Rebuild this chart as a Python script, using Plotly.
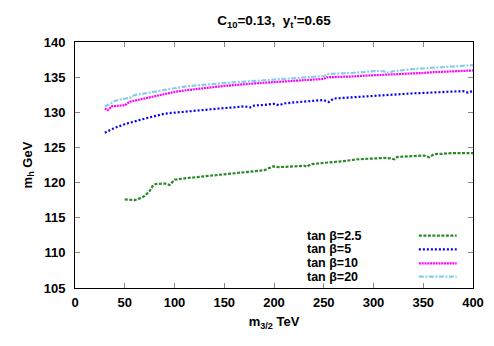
import plotly.graph_objects as go

# tan beta = 2.5
x_tb25 = [50, 55, 60, 65, 70, 75, 78, 81, 85, 91, 95, 98, 100, 110, 120, 130, 140, 150, 160,
          170, 180, 190, 199, 205, 220, 230, 233, 237, 250, 260, 270, 283, 290, 300, 310, 317,
          321, 324, 335, 344, 351, 356, 361, 370, 379, 390, 400]
y_tb25 = [117.6, 117.6, 117.5, 117.75, 118.1, 118.8, 119.5, 119.8, 119.85, 119.85, 119.65, 120.2,
          120.4, 120.6, 120.75, 120.85, 121.05, 121.2, 121.35, 121.45, 121.6, 121.75, 122.3, 122.2,
          122.3, 122.4, 122.25, 122.6, 122.8, 122.9, 123.05, 123.3, 123.35, 123.5, 123.5, 123.45,
          123.3, 123.65, 123.7, 123.8, 123.85, 123.6, 124.05, 124.1, 124.2, 124.2, 124.2]

# tan beta = 5
x_tb5 = [30, 35, 40, 50, 60, 70, 80, 90, 100, 110, 120, 130, 140, 150, 160, 170, 176, 180, 190,
         200, 205, 210, 220, 230, 240, 250, 255, 260, 270, 280, 290, 300, 310, 320, 330, 340, 350,
         360, 370, 380, 390, 395, 400]
y_tb5 = [127.1, 127.5, 127.8, 128.3, 128.75, 129.1, 129.45, 129.8, 129.95, 130.1, 130.25, 130.4,
         130.5, 130.6, 130.7, 130.85, 130.7, 130.95, 131.05, 131.2, 131.0, 131.25, 131.4, 131.5,
         131.65, 131.75, 131.45, 131.95, 132.05, 132.15, 132.25, 132.35, 132.45, 132.5, 132.6,
         132.7, 132.75, 132.85, 132.9, 132.95, 133.0, 132.8, 133.05]

# tan beta = 10
x_tb10 = [30, 33, 37, 45, 50, 55, 60, 70, 80, 90, 100, 110, 120, 130, 140, 150, 160, 170, 180,
          190, 200, 210, 220, 230, 240, 250, 253, 260, 270, 280, 290, 300, 310, 320, 330, 340, 350,
          360, 370, 380, 390, 400]
y_tb10 = [130.55, 130.3, 130.85, 130.95, 131.0, 131.5, 131.65, 131.95, 132.3, 132.65, 132.9, 133.1,
          133.3, 133.45, 133.6, 133.75, 133.9, 134.0, 134.1, 134.2, 134.3, 134.4, 134.45, 134.55,
          134.65, 134.75, 134.98, 135.0, 135.05, 135.1, 135.2, 135.25, 135.35, 135.45, 135.5, 135.55,
          135.6, 135.7, 135.75, 135.85, 135.9, 135.95]

# tan beta = 20
x_tb20 = [30, 35, 40, 45, 50, 55, 60, 70, 80, 90, 100, 110, 120, 130, 140, 150, 160, 170, 180,
          190, 200, 210, 220, 230, 240, 250, 255, 260, 270, 280, 290, 300, 310, 315, 320, 330, 340,
          350, 360, 370, 380, 390, 400]
y_tb20 = [130.8, 131.2, 131.6, 131.8, 131.9, 132.05, 132.45, 132.7, 132.95, 133.2, 133.45, 133.65,
          133.8, 133.95, 134.05, 134.15, 134.25, 134.35, 134.5, 134.6, 134.7, 134.75, 134.85, 134.95,
          135.05, 135.15, 135.45, 135.45, 135.55, 135.6, 135.75, 135.85, 135.85, 135.6, 135.85,
          136.05, 136.15, 136.25, 136.35, 136.4, 136.5, 136.6, 136.7]

names = ['tan β=2.5', 'tan β=5', 'tan β=10', 'tan β=20']
colors = ['#2a8a2a', '#0000ff', '#ff00ff', '#87ceeb']
dashes = ['3px,1.5px', '2px,2px', '2px,0.8px', '5px,1.5px,2px,1.5px']
series = [(x_tb25, y_tb25), (x_tb5, y_tb5), (x_tb10, y_tb10), (x_tb20, y_tb20)]

fig = go.Figure()
for (xs, ys), name, col, dash in zip(series, names, colors, dashes):
    fig.add_trace(go.Scatter(x=xs, y=ys, mode='lines', name=name, showlegend=False,
                             line=dict(color=col, width=2.2, dash=dash)))

# gnuplot-style key: text on the left, line sample on the right
row_y = [0.213, 0.157, 0.100, 0.046]
for name, col, dash, ry in zip(names, colors, dashes, row_y):
    fig.add_annotation(x=0.577, y=ry, xref='paper', yref='paper', text=name,
                       showarrow=False, xanchor='left', yanchor='middle',
                       font=dict(size=12.5, color='black', weight='bold'))
    fig.add_shape(type='line', xref='paper', yref='paper', x0=0.864, x1=0.959, y0=ry, y1=ry,
                  line=dict(color=col, width=2.2, dash=dash))

axis_style = dict(showline=True, linecolor='black', linewidth=1, mirror='ticks',
                  ticks='inside', ticklen=5, tickcolor='#888888', showgrid=False,
                  zeroline=False, automargin=False,
                  tickfont=dict(size=13, color='black', weight='bold'))

# the page body has an 8px margin, so the figure is 8px smaller than the window
fig.update_layout(
    width=486, height=338,
    margin=dict(l=67, r=21, t=34, b=58),
    paper_bgcolor='white', plot_bgcolor='white',
    font=dict(family='Liberation Sans', size=13, color='black', weight='bold'),
    title=dict(text="C<sub>10</sub>=0.13,  y<sub>t</sub>'=0.65", x=0.5, xref='paper',
               xanchor='center', y=0.963, yanchor='middle', font=dict(size=13.5, weight='bold')),
    xaxis=dict(range=[0, 400], tickvals=list(range(0, 401, 50)), ticklabelstandoff=2,
               title=dict(text='m<sub>3/2</sub> TeV', standoff=8, font=dict(size=13)), **axis_style),
    yaxis=dict(range=[105, 140], tickvals=list(range(105, 141, 5)), ticklabelstandoff=6,
               title=dict(text='m<sub>h</sub> GeV', standoff=8, font=dict(size=13)), **axis_style),
)

fig.write_html("out.html")
